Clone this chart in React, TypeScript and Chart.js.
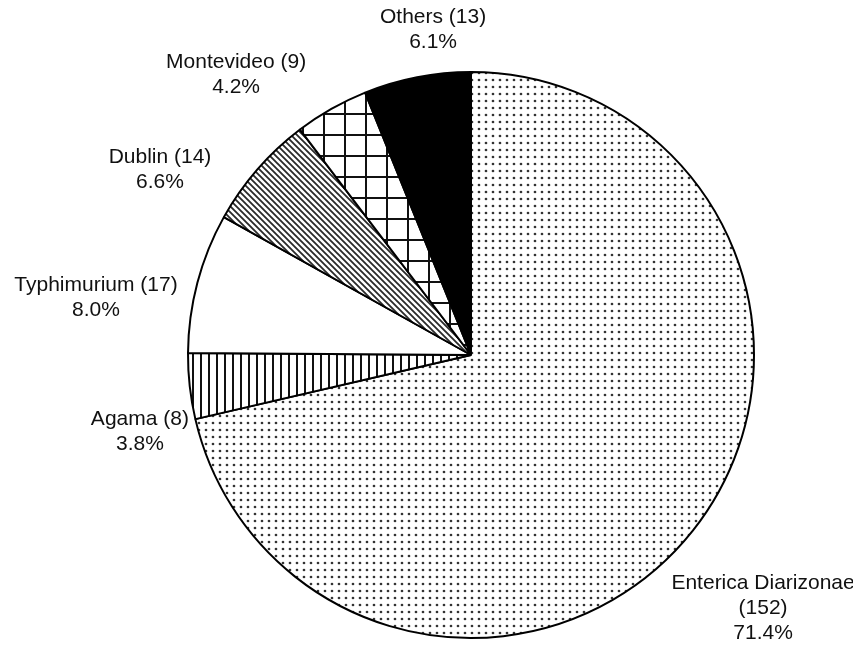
import React, { useEffect, useRef } from 'react';
import { Chart, registerables } from 'chart.js';

Chart.register(...registerables);

const CATEGORIES = ['Enterica Diarizonae', 'Agama', 'Typhimurium', 'Dublin', 'Montevideo', 'Others'];
const COUNTS = [152, 8, 17, 14, 9, 13];
const PERCENT_LABELS = ['71.4%', '3.8%', '8.0%', '6.6%', '4.2%', '6.1%'];
const LABEL_LINES = [
  ['Enterica Diarizonae', '(152)', '71.4%'],
  ['Agama (8)', '3.8%'],
  ['Typhimurium (17)', '8.0%'],
  ['Dublin (14)', '6.6%'],
  ['Montevideo (9)', '4.2%'],
  ['Others (13)', '6.1%'],
];

// label block centre relative to pie centre, in units of the radius
const LABEL_OFFSETS: [number, number][] = [
  [1.032, 0.894],
  [-1.17, 0.272],
  [-1.325, -0.201],
  [-1.099, -0.654],
  [-0.83, -0.989],
  [-0.134, -1.148],
];

function makeTile(size: number, draw: (c: CanvasRenderingContext2D) => void): CanvasPattern | string {
  const cv = document.createElement('canvas');
  cv.width = size;
  cv.height = size;
  const c = cv.getContext('2d')!;
  c.fillStyle = '#ffffff';
  c.fillRect(0, 0, size, size);
  draw(c);
  const ctx = document.createElement('canvas').getContext('2d')!;
  return ctx.createPattern(cv, 'repeat') || '#fff';
}

function buildPatterns() {
  const dots = makeTile(14, (c) => {
    c.fillStyle = '#333333';
    for (const [x, y] of [[2, 2], [9, 2], [2, 9], [9, 9]]) {
      c.beginPath();
      c.arc(x, y, 1.35, 0, Math.PI * 2);
      c.fill();
    }
  });
  const vlines = makeTile(8, (c) => {
    c.fillStyle = '#111111';
    c.fillRect(0, 0, 2, 8);
  });
  const white = '#ffffff';
  const diag = makeTile(6, (c) => {
    c.strokeStyle = '#2a2a2a';
    c.lineWidth = 1.8;
    c.beginPath();
    c.moveTo(-1, -1);
    c.lineTo(7, 7);
    c.moveTo(-1, 5);
    c.lineTo(1, 7);
    c.moveTo(5, -1);
    c.lineTo(7, 1);
    c.stroke();
  });
  const grid = makeTile(21, (c) => {
    c.fillStyle = '#111111';
    c.fillRect(0, 0, 2, 21);
    c.fillRect(0, 0, 21, 2);
  });
  return [dots, vlines, white, diag, grid, '#000000'];
}

const labelPlugin = {
  id: 'outsideLabels',
  afterDraw(chart: any) {
    const ctx = chart.ctx as CanvasRenderingContext2D;
    const meta = chart.getDatasetMeta(0);
    ctx.save();
    ctx.fillStyle = '#111111';
    ctx.font = '21px "Liberation Sans", Arial, sans-serif';
    ctx.textAlign = 'center';
    ctx.textBaseline = 'middle';
    const lh = 25;
    meta.data.forEach((arc: any, i: number) => {
      const { x, y, outerRadius } = arc.getProps(['x', 'y', 'outerRadius'], true);
      const [ox, oy] = LABEL_OFFSETS[i];
      const cx = x + ox * outerRadius;
      const cy = y + oy * outerRadius;
      const lines = LABEL_LINES[i];
      lines.forEach((t, k) => {
        ctx.fillText(t, cx, cy + (k - (lines.length - 1) / 2) * lh);
      });
    });
    ctx.restore();
  },
};

export default function App() {
  const ref = useRef<HTMLCanvasElement>(null);
  useEffect(() => {
    if (!ref.current) return;
    const chart = new Chart(ref.current, {
      type: 'pie',
      data: {
        labels: CATEGORIES.map((c, i) => `${c} (${COUNTS[i]}) ${PERCENT_LABELS[i]}`),
        datasets: [
          {
            data: COUNTS,
            backgroundColor: buildPatterns() as any,
            borderColor: '#000000',
            borderWidth: 2,
            hoverOffset: 0,
            offset: 0,
          },
        ],
      },
      options: {
        responsive: false,
        animation: false,
        layout: { padding: { top: 63, bottom: 5, left: 179, right: 98 } },
        plugins: {
          legend: { display: false },
          tooltip: { enabled: false },
        },
        events: [],
      },
      plugins: [labelPlugin],
    });
    return () => chart.destroy();
  }, []);
  return (
    <div style={{ width: 845, height: 636 }}>
      <canvas ref={ref} width={845} height={636} style={{ display: 'block' }} />
    </div>
  );
}
